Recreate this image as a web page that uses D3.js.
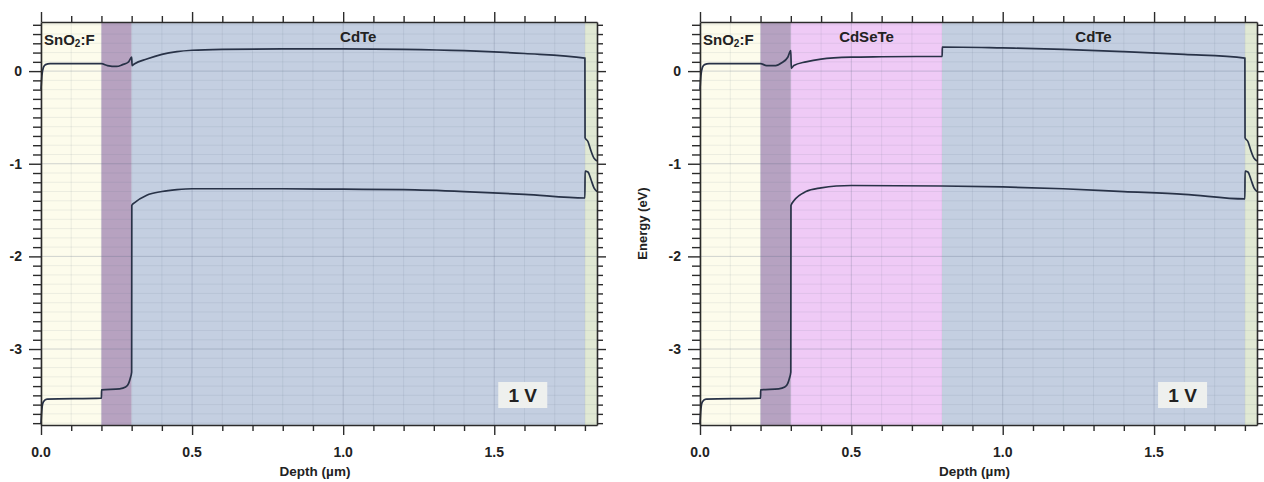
<!DOCTYPE html>
<html>
<head>
<meta charset="utf-8">
<script src="https://cdn.jsdelivr.net/npm/d3@7"></script>
<style>
html,body{margin:0;padding:0;background:#fff;}
svg text{font-family:"Liberation Sans",Arial,sans-serif;font-weight:bold;fill:#222;}
</style>
</head>
<body>
<svg id="chart" width="1264" height="482"></svg>
<script>
// ---------- DATA ----------
const xTickLabels = ["0.0", "0.5", "1.0", "1.5"];
const xTickValues = [0, 0.5, 1.0, 1.5];
const yTickLabels = ["0", "-1", "-2", "-3"];
const yTickValues = [0, -1, -2, -3];

// layer boundaries (µm) and names
const leftLayers = [
  {name: "SnO2:F", from: 0.0, to: 0.2, color: "#fdfcec"},
  {name: "CdS",    from: 0.2, to: 0.3, color: "#b7a2c0"},
  {name: "CdTe",   from: 0.3, to: 1.8, color: "#c4cfe1"},
  {name: "back",   from: 1.8, to: 1.84, color: "#e1e9d4"}
];
const rightLayers = [
  {name: "SnO2:F", from: 0.0, to: 0.2, color: "#fdfcec"},
  {name: "CdS",    from: 0.2, to: 0.3, color: "#b6a2c1"},
  {name: "CdSeTe", from: 0.3, to: 0.8, color: "#efcaf6"},
  {name: "CdTe",   from: 0.8, to: 1.8, color: "#c4cfe1"},
  {name: "back",   from: 1.8, to: 1.84, color: "#e1e9d4"}
];

// conduction band, left (CdTe only)
const cbLeftDepth  = [0.000,0.003,0.008,0.015,0.030,0.200,0.220,0.250,0.270,0.290,0.300,0.3015,0.310,0.350,0.400,0.450,0.500,0.600,0.800,1.000,1.200,1.400,1.600,1.800,1.8005,1.810,1.820,1.830,1.840];
const cbLeftEnergy = [-0.20,-0.05,0.04,0.07,0.08,0.08,0.06,0.05,0.07,0.10,0.15,0.06,0.08,0.13,0.18,0.21,0.225,0.235,0.24,0.24,0.235,0.22,0.19,0.14,-0.72,-0.76,-0.86,-0.94,-0.97];
// valence band, left
const vbLeftDepth  = [0.000,0.003,0.008,0.020,0.200,0.2005,0.260,0.280,0.290,0.295,0.300,0.3005,0.310,0.350,0.400,0.450,0.500,0.800,1.000,1.200,1.400,1.600,1.800,1.8005,1.810,1.820,1.830,1.840];
const vbLeftEnergy = [-3.80,-3.65,-3.57,-3.54,-3.53,-3.44,-3.43,-3.41,-3.37,-3.32,-3.25,-1.45,-1.42,-1.34,-1.30,-1.28,-1.27,-1.27,-1.275,-1.28,-1.30,-1.33,-1.37,-1.08,-1.09,-1.17,-1.26,-1.30];

// conduction band, right (CdSeTe / CdTe)
const cbRightDepth  = [0.000,0.003,0.008,0.015,0.030,0.200,0.220,0.250,0.270,0.290,0.300,0.3015,0.310,0.350,0.400,0.500,0.600,0.800,0.8005,1.000,1.200,1.400,1.600,1.800,1.8005,1.810,1.820,1.830,1.840];
const cbRightEnergy = [-0.20,-0.05,0.04,0.07,0.08,0.08,0.06,0.06,0.09,0.15,0.22,0.03,0.06,0.10,0.13,0.15,0.155,0.16,0.26,0.25,0.235,0.21,0.18,0.14,-0.72,-0.76,-0.86,-0.94,-0.97];
// valence band, right
const vbRightDepth  = [0.000,0.003,0.008,0.020,0.200,0.2005,0.260,0.280,0.290,0.295,0.300,0.3005,0.310,0.350,0.400,0.450,0.500,0.800,1.000,1.200,1.400,1.600,1.800,1.8005,1.810,1.820,1.830,1.840];
const vbRightEnergy = [-3.80,-3.65,-3.57,-3.54,-3.53,-3.44,-3.43,-3.41,-3.37,-3.32,-3.25,-1.45,-1.40,-1.30,-1.26,-1.24,-1.235,-1.24,-1.25,-1.27,-1.30,-1.33,-1.38,-1.08,-1.09,-1.17,-1.26,-1.30];

const xDomain = [0, 1.84];
const yDomain = [-3.82, 0.53];

// ---------- DRAW ----------
const svg = d3.select("#chart");

function zip(xs, ys){ return xs.map((d,i)=>({x:d, y:ys[i]})); }

function drawPanel(left, right, layers, labels, cb, vb, showYLabel){
  const top = 22, bottom = 425;
  const x = d3.scaleLinear().domain(xDomain).range([left, right]);
  const y = d3.scaleLinear().domain(yDomain).range([bottom, top]);
  const g = svg.append("g");

  // layer backgrounds
  g.selectAll("rect.layer").data(layers).enter().append("rect")
    .attr("x", d => x(d.from)).attr("width", d => x(d.to) - x(d.from))
    .attr("y", top).attr("height", bottom - top)
    .attr("fill", d => d.color);

  // gridlines
  const xMinor = d3.range(0, 1.841, 0.1);
  const yMinor = d3.range(-38, 6).map(v => v/10);
  g.selectAll("line.gx").data(xMinor).enter().append("line")
    .attr("x1", d => x(d)).attr("x2", d => x(d)).attr("y1", top).attr("y2", bottom)
    .attr("stroke", d => Math.abs(d*2 - Math.round(d*2)) < 1e-6 ? "rgba(90,105,130,0.24)" : "rgba(90,105,130,0.11)")
    .attr("stroke-width", 1);
  g.selectAll("line.gy").data(yMinor).enter().append("line")
    .attr("y1", d => y(d)).attr("y2", d => y(d)).attr("x1", left).attr("x2", right)
    .attr("stroke", d => Math.abs(d - Math.round(d)) < 1e-6 ? "rgba(90,105,130,0.28)" : "rgba(90,105,130,0.10)")
    .attr("stroke-width", 1);

  // curves
  const line = d3.line().x(d => x(d.x)).y(d => y(d.y)).curve(d3.curveMonotoneX);
  [cb, vb].forEach(data => {
    g.append("path").datum(data).attr("d", line)
      .attr("fill", "none").attr("stroke", "#283247").attr("stroke-width", 1.7);
  });

  // axes
  const isMajorY = v => Math.abs(v - Math.round(v)) < 1e-6;
  const isMajorX = v => Math.abs(v*2 - Math.round(v*2)) < 1e-6;
  const yAxisL = d3.axisLeft(y).tickValues(yMinor).tickFormat("").tickSizeOuter(0);
  const yAxisR = d3.axisRight(y).tickValues(yMinor).tickFormat("").tickSizeOuter(0);
  const xAxisB = d3.axisBottom(x).tickValues(xMinor).tickFormat("").tickSizeOuter(0);
  const xAxisT = d3.axisTop(x).tickValues(xMinor).tickFormat("").tickSizeOuter(0);

  const gl = g.append("g").attr("transform", `translate(${left},0)`).call(yAxisL);
  gl.selectAll(".tick line").attr("x2", d => isMajorY(d) ? -12 : -8);
  const gr = g.append("g").attr("transform", `translate(${right},0)`).call(yAxisR);
  gr.selectAll(".tick line").attr("x2", d => isMajorY(d) ? 9 : 6);
  const gb = g.append("g").attr("transform", `translate(0,${bottom})`).call(xAxisB);
  gb.selectAll(".tick line").attr("y2", d => isMajorX(d) ? 10 : 6);
  const gt = g.append("g").attr("transform", `translate(0,${top})`).call(xAxisT);
  gt.selectAll(".tick line").attr("y2", d => isMajorX(d) ? -10 : -6);
  [gl, gr, gb, gt].forEach(a => {
    a.select(".domain").attr("stroke", "#2b2b2b").attr("stroke-width", 1.6);
    a.selectAll(".tick line").attr("stroke", "#2b2b2b").attr("stroke-width", 1.4);
  });

  // tick labels
  g.selectAll("text.xl").data(xTickValues).enter().append("text")
    .attr("x", d => x(d)).attr("y", bottom + 32)
    .attr("text-anchor", "middle").attr("font-size", 14)
    .text((d,i) => xTickLabels[i]);
  g.selectAll("text.yl").data(yTickValues).enter().append("text")
    .attr("x", left - 19).attr("y", d => y(d) + 5)
    .attr("text-anchor", "end").attr("font-size", 14)
    .text((d,i) => yTickLabels[i]);

  // axis titles
  g.append("text").attr("x", (left + right)/2 - 4).attr("y", bottom + 51)
    .attr("text-anchor", "middle").attr("font-size", 13.5).text("Depth (µm)");
  if (showYLabel){
    g.append("text").attr("transform", `translate(${left - 53},${(top+bottom)/2}) rotate(-90)`)
      .attr("text-anchor", "middle").attr("font-size", 13).text("Energy (eV)");
  }

  // layer labels
  const sn = g.append("text").attr("x", left + 3).attr("y", top + 23).attr("font-size", 15);
  sn.append("tspan").text("SnO");
  sn.append("tspan").attr("font-size", 10).attr("dy", 2).text("2");
  sn.append("tspan").attr("dy", -2).text(":F");
  labels.forEach(l => {
    g.append("text").attr("x", x((l.from + l.to)/2)).attr("y", top + 20)
      .attr("text-anchor", "middle").attr("font-size", 15).text(l.name);
  });

  // bias label
  const bx = x(1.5), by = 382;
  g.append("rect").attr("x", bx + 4).attr("y", by).attr("width", 49).attr("height", 26)
    .attr("fill", "#eef0ee");
  g.append("text").attr("x", bx + 28.5).attr("y", by + 20).attr("text-anchor", "middle")
    .attr("font-size", 19).text("1 V");
}

drawPanel(41, 597, leftLayers, leftLayers.filter(l => l.name === "CdTe"),
  zip(cbLeftDepth, cbLeftEnergy), zip(vbLeftDepth, vbLeftEnergy), false);
drawPanel(700, 1257, rightLayers, rightLayers.filter(l => l.name === "CdTe" || l.name === "CdSeTe"),
  zip(cbRightDepth, cbRightEnergy), zip(vbRightDepth, vbRightEnergy), true);
</script>
</body>
</html>
